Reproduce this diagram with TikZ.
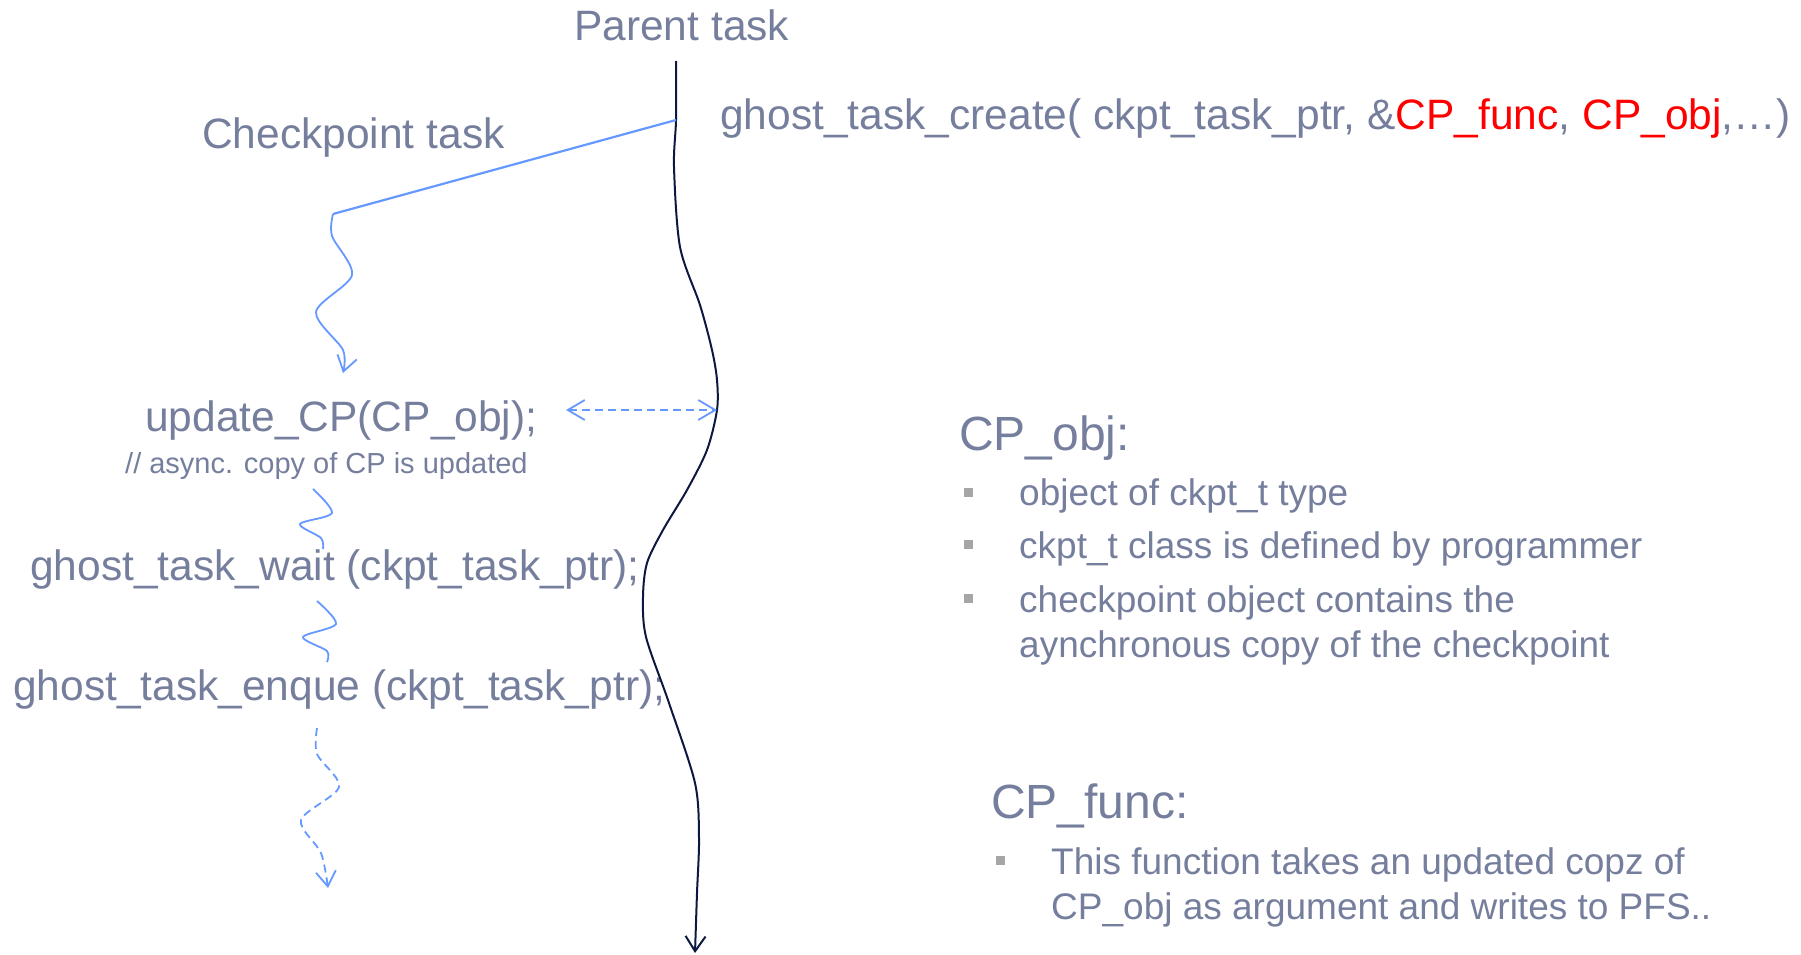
\documentclass[tikz,border=0pt]{standalone}
\usepackage{fontspec}
\setmainfont{Liberation Sans}
\usetikzlibrary{arrows.meta}
\usetikzlibrary{positioning}

\definecolor{slate}{RGB}{117,126,156}
\definecolor{linkblue}{RGB}{102,153,255}
\definecolor{navy}{RGB}{12,24,64}
\definecolor{bulletgray}{RGB}{166,166,166}

\begin{document}
\begin{tikzpicture}
[
	x								= 1pt,
	y								= -1pt,
	%
	% code | comment | heading | item
	code/.style						=
	{
		font						= \fontsize{42.5}{51}\selectfont,
		text						= slate,
		inner sep					= 0pt,
		anchor						= base west
	},
	comment/.style					= {code, font = \fontsize{29}{35}\selectfont},
	heading/.style					= {code, font = \fontsize{48}{58}\selectfont},
	item/.style						= {code, font = \fontsize{37}{45}\selectfont},
	bulletsq/.style					= {fill = bulletgray, minimum size = 9pt, inner sep = 0pt},
	%
	% parent line | fork | squiggles
	parent/.style					= {navy, line width = 2pt, -{Straight Barb[length=15pt,width=20pt]}},
	fork/.style						= {linkblue, line width = 2.2pt},
	wave/.style						= {linkblue, line width = 1.8pt},
	dashes/.style					= {dash pattern = on 8pt off 5pt},
	barb/.style						= {-{Straight Barb[length=15pt,width=20pt]}},
]
	\useasboundingbox (0,0) rectangle (1801,955);

	% left column
	\node (parent) [code] at (574,41) {Parent task};
	\node (ckpt) [code] at (202,149) {Checkpoint task};
	\node (create) [code] at (720,129) {ghost\_task\_create( ckpt\_task\_ptr, \&\textcolor{red}{CP\_func}, \textcolor{red}{CP\_obj},…)};

	\node (upd) [code] at (145,431) {update\_CP(CP\_obj);};
	\node (cmt) [comment, below right = 42pt and -20pt of upd.base west, anchor = base west] {// async. copy of CP is updated};
	\node (wait) [code] at (30,580) {ghost\_task\_wait (ckpt\_task\_ptr);};
	\node (enque) [code] at (13,700) {ghost\_task\_enque (ckpt\_task\_ptr);};

	% right column
	\node (objh) [heading] at (959,450) {CP\_obj:};
	\node (b1) [bulletsq] at (968,492) {};
	\node (o1) [item] at (1019,505) {object of ckpt\_t type};
	\node (b2) [bulletsq] at (968,544) {};
	\node (o2) [item] at (1019,558) {ckpt\_t class is defined by programmer};
	\node (b3) [bulletsq] at (968,598) {};
	\node (o3) [item] at (1019,612) {checkpoint object contains the};
	\node (o4) [item, below = 45pt of o3.base west, anchor = base west] {aynchronous copy of the checkpoint};

	\node (funch) [heading] at (991,818) {CP\_func:};
	\node (b4) [bulletsq] at (1000,860) {};
	\node (f1) [item] at (1051,874) {This function takes an updated copz of};
	\node (f2) [item, below = 45pt of f1.base west, anchor = base west] {CP\_obj as argument and writes to PFS..};

	% parent task line
	\coordinate (ptop) at (676,61);
	\coordinate (pfork) at (676,120);
	\coordinate (pmid) at (717,410);
	\coordinate (pbot) at (695,953);
	\draw [parent] plot [smooth] coordinates {(ptop) (pfork) (674,167) (680,247) (700,305) (712,350) (717,380) (pmid) (707,450) (687,490) (663,530) (647,563) (643,597) (646,637) (669,703) (695,783) (699,838) (697,893) (pbot)};

	% checkpoint task
	\coordinate (ckbend) at (333,214);
	\coordinate (dashL) at (566,410);
	\draw [fork] (pfork) -- (ckbend);
	\draw [wave, barb] plot [smooth] coordinates {(ckbend) (332,236) (352,275) (316,312) (343,350) (343,373)};
	\draw [wave, dashes, {Straight Barb[length=17pt,width=20pt]}-{Straight Barb[length=17pt,width=20pt]}] (dashL) -- (pmid);

	\draw [wave] plot [smooth] coordinates {(313,489) (332,513) (300,524) (321,538) (323,549)};
	\draw [wave] plot [smooth] coordinates {(317,601) (336,624) (303,637) (327,651) (327,662)};
	\draw [wave, dashes, barb] plot [smooth] coordinates {(317,728) (317,754) (339,787) (301,820) (321,853) (328,888)};

\end{tikzpicture}
\end{document}
